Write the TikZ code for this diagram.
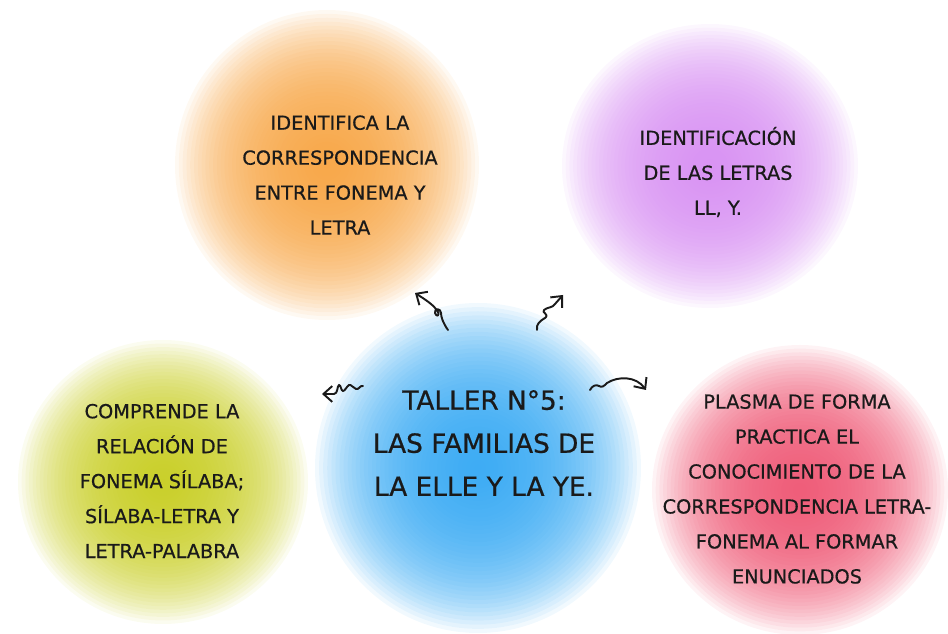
\documentclass[tikz,border=0pt]{standalone}
\usepackage{fontspec}
\setmainfont{DejaVu Sans}[FakeBold=0.6]
\usetikzlibrary{arrows.meta}

\definecolor{tinta}{HTML}{1A1A1A}
\definecolor{naranja}{HTML}{F7A23E}
\definecolor{lila}{HTML}{D68CF2}
\definecolor{celeste}{HTML}{30A6F3}
\definecolor{lima}{HTML}{C6CC1C}
\definecolor{rosa}{HTML}{EE5270}

\newcommand{\mancha}[5]{%
    \foreach \k in {1,...,40}
        \fill[#1, opacity=0.065] (#2, #3) ellipse ({#4*\k/40} and {#5*\k/40});
}

\tikzset{
    texto/.style={align=center, text=tinta, font=\fontsize{11}{19.9}\selectfont},
    titulo/.style={align=center, text=tinta, font=\fontsize{15}{24.5}\selectfont},
    garabato/.style={->, tinta, line width=1.1pt, line cap=round, line join=round}
}

\begin{document}
\begin{tikzpicture}[x=0.02cm, y=-0.02cm, >={Straight Barb[length=5pt, width=9pt]}]
        \useasboundingbox (0, 0) rectangle (948, 634);

        \mancha{naranja}{327}{165}{152}{155}
        \mancha{lila}{710}{166}{148}{142}
        \mancha{celeste}{478}{468}{163}{165}
        \mancha{lima}{163}{482}{145}{142}
        \mancha{rosa}{800}{490}{148}{145}

        \node[texto] (identifica) at (340, 175) {IDENTIFICA LA\\CORRESPONDENCIA\\ENTRE FONEMA Y\\LETRA};
        \node[texto] (letras) at (718, 172) {IDENTIFICACIÓN\\DE LAS LETRAS\\LL, Y.};
        \node[titulo] (taller) at (484, 443) {TALLER N°5:\\LAS FAMILIAS DE\\LA ELLE Y LA YE.};
        \node[texto] (comprende) at (162, 481) {COMPRENDE LA\\RELACIÓN DE\\FONEMA SÍLABA;\\SÍLABA-LETRA Y\\LETRA-PALABRA};
        \node[texto] (plasma) at (797, 489) {PLASMA DE FORMA\\PRACTICA EL\\CONOCIMIENTO DE LA\\CORRESPONDENCIA LETRA-\\FONEMA AL FORMAR\\ENUNCIADOS};

        \coordinate (a1) at (448, 330);
        \coordinate (b1) at (415, 293);
        \coordinate (a2) at (537, 330);
        \coordinate (b2) at (563, 295);
        \coordinate (a3) at (363, 386);
        \coordinate (b3) at (322, 394);
        \coordinate (a4) at (590, 390);
        \coordinate (b4) at (646, 390);

        \draw[garabato] (a1) .. controls (443, 323) and (441, 317) .. (441, 313) .. controls (441, 308) and (434, 308) .. (435, 313) .. controls (436, 317) and (441, 317) .. (437, 310) .. controls (432, 304) and (426, 300) .. (b1);
        \draw[garabato] (a2) .. controls (536, 324) and (540, 321) .. (545, 318) .. controls (550, 314) and (541, 313) .. (544, 310) .. controls (547, 307) and (553, 308) .. (555, 304) -- (b2);
        \draw[garabato] (a3) .. controls (360, 385) and (359, 390) .. (356, 389) .. controls (353, 388) and (351, 384) .. (349, 385) .. controls (347, 386) and (345, 391) .. (343, 391) .. controls (341, 391) and (341, 385) .. (339, 385) .. controls (337, 386) and (338, 394) .. (334, 394) -- (b3);
        \draw[garabato] (a4) .. controls (592, 386) and (596, 384) .. (599, 386) .. controls (602, 388) and (604, 386) .. (607, 383) .. controls (618, 376) and (636, 376) .. (b4);

    \end{tikzpicture}
\end{document}
